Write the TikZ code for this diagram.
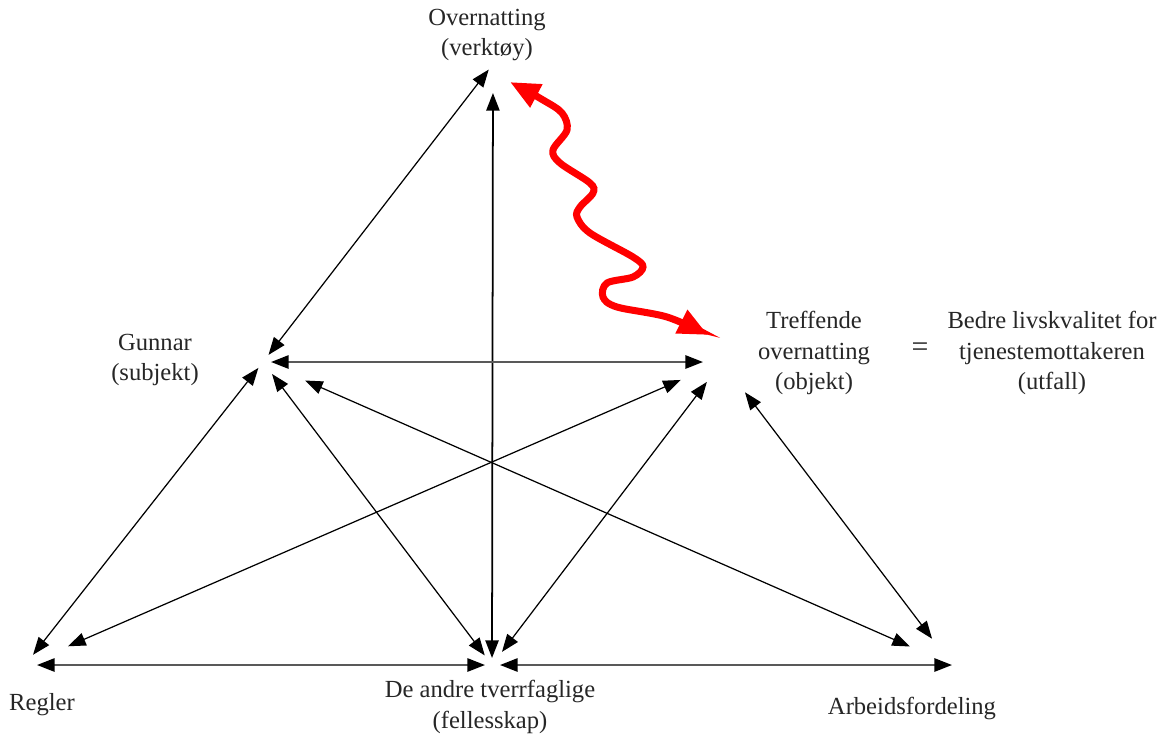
\documentclass[tikz,border=0pt]{standalone}
\usepackage{fontspec}
\setmainfont{Liberation Serif}
\usetikzlibrary{arrows.meta}

\tikzset{
  link/.style={{Triangle[length=10pt,width=7.5pt,color=black]}-{Triangle[length=10pt,width=7.5pt,color=black]}, line width=0.7pt},
  flat/.style={link, line width=1.2pt, draw=black!65},
  word/.style={align=center, font=\fontsize{14}{17.5}\selectfont, text=black!85},
}

\begin{document}
\begin{tikzpicture}[x=0.02cm, y=-0.02cm]
  \useasboundingbox (0,0) rectangle (1169,738);
  % corners of the activity triangle
  \coordinate (T) at (493,64);
  \coordinate (S) at (263,362);
  \coordinate (O) at (722,362);
  \coordinate (R) at (25,665);
  \coordinate (C) at (492,665);
  \coordinate (D) at (952,665);
  % ends of the red link
  \coordinate (wT) at (510,82);
  \coordinate (wO) at (708,335);

  \node[word] (tool) at (487,35) {Overnatting\\(verktøy)};
  \node[word] (subj) at (155,360) {Gunnar\\(subjekt)};
  \node[word] (obj) at (814,353) {Treffende\\overnatting\\(objekt)};
  \node[word, font=\fontsize{17}{17.5}\selectfont] (eq) at (920,350) {=};
  \node[word] (outc) at (1052,353) {Bedre livskvalitet for\\tjenestemottakeren\\(utfall)};
  \node[word] (rules) at (42,705) {Regler};
  \node[word] (comm) at (490,707) {De andre tverrfaglige\\(fellesskap)};
  \node[word] (div) at (912,708) {Arbeidsfordeling};

  % upper triangle
  \draw[link, shorten <=0.14cm, shorten >=0.18cm] (T) -- (S);
  \draw[link, line width=1pt, shorten <=0.58cm, shorten >=0.14cm] (T) -- (C);
  \draw[flat, shorten <=0.16cm, shorten >=0.38cm] (S) -- (O);
  % from the subject
  \draw[link, shorten <=0.15cm, shorten >=0.26cm] (S) -- (R);
  \draw[link, shorten <=0.30cm, shorten >=0.24cm] (S) -- (C);
  \draw[link, shorten <=0.92cm, shorten >=0.92cm] (S) -- (D);
  % from the object
  \draw[link, shorten <=0.90cm, shorten >=0.94cm] (O) -- (R);
  \draw[link, shorten <=0.50cm, shorten >=0.33cm] (O) -- (C);
  \draw[link, shorten <=0.76cm, shorten >=0.66cm] (O) -- (D);
  % base line
  \draw[flat, shorten <=0.24cm, shorten >=0.14cm] (R) -- (C);
  \draw[flat, shorten <=0.16cm] (C) -- (D);

  \draw[red, line width=4pt, {Triangle[length=17pt,width=14pt]}-{Triangle[length=17pt,width=14pt]}]
    plot[smooth, tension=0.55] coordinates {(wT) (543,100) (562,113) (567,130) (553,150) (560,163)
      (590,183) (593,193) (580,207) (577,217) (590,233) (633,257) (643,267) (633,277) (607,283)
      (603,297) (617,307) (667,317) (wO)};
\end{tikzpicture}
\end{document}
